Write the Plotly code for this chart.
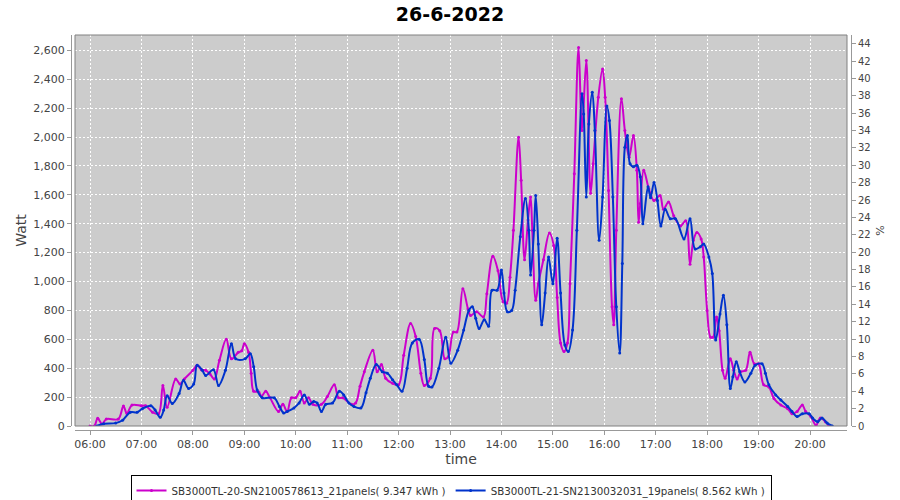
import plotly.graph_objects as go

DAY = "2022-06-26 "

series_a_name = "SB3000TL-20-SN2100578613_21panels( 9.347 kWh )"
series_a_times = [
    "06:00", "06:05", "06:09", "06:14", "06:19", "06:33", "06:39", "06:43", "06:49", "07:00",
    "07:05", "07:13", "07:20", "07:25", "07:30", "07:40", "07:45", "07:50", "08:00", "08:05",
    "08:10", "08:15", "08:20", "08:25", "08:31", "08:39", "08:45", "08:53", "08:57", "09:00",
    "09:05", "09:08", "09:11", "09:17", "09:20", "09:25", "09:30", "09:40", "09:45", "09:50",
    "09:55", "10:00", "10:05", "10:10", "10:15", "10:20", "10:30", "10:37", "10:45", "10:50",
    "10:55", "11:05", "11:10", "11:15", "11:20", "11:30", "11:35", "11:40", "11:45", "11:53",
    "12:00", "12:06", "12:14", "12:20", "12:26", "12:30", "12:37", "12:42", "12:48", "12:54",
    "12:58", "13:04", "13:08", "13:15", "13:21", "13:24", "13:31", "13:39", "13:43", "13:50",
    "13:56", "14:02", "14:06", "14:10", "14:14", "14:20", "14:23", "14:27", "14:31", "14:34",
    "14:36", "14:40", "14:43", "14:49", "14:56", "15:01", "15:05", "15:09", "15:13", "15:17",
    "15:20", "15:25", "15:30", "15:34", "15:39", "15:44", "15:47", "15:53", "15:58", "16:01",
    "16:05", "16:09", "16:11", "16:14", "16:20", "16:24", "16:29", "16:34", "16:38", "16:40",
    "16:42", "16:46", "16:52", "16:58", "17:05", "17:09", "17:15", "17:21", "17:29", "17:35",
    "17:40", "17:44", "17:48", "17:53", "17:56", "18:00", "18:04", "18:07", "18:11", "18:14",
    "18:18", "18:21", "18:27", "18:31", "18:35", "18:39", "18:45", "18:50", "18:55", "19:00",
    "19:06", "19:12", "19:18", "19:26", "19:34", "19:39", "19:45", "19:51", "19:55", "20:01",
    "20:07", "20:12", "20:18", "20:22",
]
series_a_watt = [
    0, 0, 53, 14, 48, 48, 138, 87, 145, 140,
    140, 95, 85, 280, 130, 325, 290, 325, 385, 420,
    390, 385, 360, 325, 455, 600, 465, 510, 520, 570,
    510, 365, 240, 235, 205, 240, 195, 100, 150, 100,
    195, 195, 240, 160, 195, 150, 150, 205, 285, 195,
    195, 150, 160, 275, 375, 525, 375, 425, 330, 295,
    285, 490, 710, 620, 365, 280, 330, 675, 660, 465,
    480, 650, 650, 950, 810, 765, 790, 755, 915, 1175,
    1075, 860, 850, 1030, 1355, 1999, 1700, 1150, 1425, 1585,
    1355, 870, 985, 1150, 1335, 1250, 890, 575, 515, 575,
    985, 1745, 2620, 2045, 2530, 1610, 1815, 2275, 2470, 2275,
    1630, 825, 700, 1355, 2265, 2045, 1860, 2010, 1770, 1410,
    1540, 1770, 1640, 1560, 1595, 1500, 1550, 1455, 1385, 1420,
    1120, 1285, 1340, 1295, 1170, 800, 615, 615, 755, 660,
    385, 330, 465, 385, 325, 375, 385, 510, 430, 430,
    285, 270, 190, 145, 120, 85, 100, 145, 100, 65,
    5, 55, 30, 5,
]

series_b_name = "SB3000TL-21-SN2130032031_19panels( 8.562 kWh )"
series_b_times = [
    "06:08", "06:16", "06:30", "06:38", "06:47", "06:55", "07:01", "07:11", "07:16", "07:22",
    "07:26", "07:30", "07:36", "07:44", "07:49", "07:55", "08:01", "08:05", "08:11", "08:15",
    "08:24", "08:30", "08:38", "08:45", "08:50", "09:01", "09:07", "09:11", "09:15", "09:21",
    "09:35", "09:41", "09:46", "09:50", "09:58", "10:04", "10:10", "10:16", "10:21", "10:25",
    "10:30", "10:35", "10:43", "10:51", "10:56", "11:02", "11:08", "11:16", "11:22", "11:27",
    "11:34", "11:41", "11:47", "11:53", "11:58", "12:04", "12:10", "12:16", "12:24", "12:30",
    "12:35", "12:39", "12:47", "12:55", "13:01", "13:09", "13:16", "13:22", "13:26", "13:30",
    "13:34", "13:40", "13:45", "13:49", "13:55", "14:00", "14:03", "14:07", "14:12", "14:16",
    "14:22", "14:28", "14:32", "14:34", "14:38", "14:40", "14:43", "14:47", "14:51", "14:55",
    "15:00", "15:05", "15:09", "15:14", "15:18", "15:23", "15:28", "15:34", "15:36", "15:39",
    "15:42", "15:46", "15:49", "15:54", "15:58", "16:03", "16:06", "16:10", "16:14", "16:18",
    "16:21", "16:24", "16:27", "16:30", "16:34", "16:38", "16:42", "16:45", "16:51", "16:54",
    "16:58", "17:02", "17:06", "17:11", "17:17", "17:23", "17:33", "17:40", "17:46", "17:52",
    "17:56", "18:02", "18:06", "18:10", "18:15", "18:19", "18:23", "18:27", "18:30", "18:34",
    "18:38", "18:44", "18:51", "18:56", "19:04", "19:08", "19:12", "19:20", "19:26", "19:34",
    "19:39", "19:45", "19:51", "19:59", "20:03", "20:09", "20:14", "20:20", "20:26",
]
series_b_watt = [
    0, 15, 20, 40, 95, 95, 120, 140, 110, 60,
    110, 210, 155, 225, 315, 260, 290, 420, 385, 350,
    390, 280, 385, 570, 465, 465, 500, 410, 250, 195,
    195, 135, 90, 100, 125, 160, 215, 150, 170, 160,
    100, 150, 160, 240, 215, 160, 135, 125, 230, 330,
    425, 375, 365, 320, 285, 240, 400, 575, 600, 460,
    275, 270, 400, 615, 435, 525, 665, 800, 825, 745,
    675, 735, 690, 940, 940, 1080, 920, 790, 800, 940,
    1310, 1575, 1355, 1045, 1355, 1595, 1260, 700, 920, 1170,
    985, 1300, 920, 560, 515, 665, 1355, 2300, 2160, 1585,
    2090, 2310, 2045, 1285, 1585, 2215, 2115, 1585, 825, 505,
    1125, 1930, 2010, 1815, 1795, 1805, 1725, 1400, 1655, 1580,
    1685, 1560, 1385, 1500, 1435, 1435, 1295, 1435, 1225, 1240,
    1260, 1170, 1055, 595, 775, 905, 700, 260, 340, 445,
    375, 305, 365, 420, 430, 365, 285, 215, 180, 135,
    100, 65, 85, 85, 55, 30, 55, 20, 0,
]

hour_ticks = ["06:00", "07:00", "08:00", "09:00", "10:00", "11:00", "12:00",
              "13:00", "14:00", "15:00", "16:00", "17:00", "18:00", "19:00", "20:00"]
x_range = ["05:42:30", "20:43:10"]
watt_range = [0, 2706]
pct_range = [0, 45]
pct_ticks = list(range(0, 46, 2))

COLOR_A = "#cc00cc"
COLOR_B = "#0033cc"
FONT = "DejaVu Sans"

fig = go.Figure()
fig.add_trace(go.Scatter(
    x=[DAY + t for t in series_a_times], y=series_a_watt, name=series_a_name,
    mode="lines+markers", line=dict(color=COLOR_A, width=2, shape="spline"),
    marker=dict(size=3, color=COLOR_A),
))
fig.add_trace(go.Scatter(
    x=[DAY + t for t in series_b_times], y=series_b_watt, name=series_b_name,
    mode="lines+markers", line=dict(color=COLOR_B, width=2, shape="spline"),
    marker=dict(size=3, color=COLOR_B),
))
# empty trace to instantiate the right-hand % axis
fig.add_trace(go.Scatter(x=[], y=[], yaxis="y2", showlegend=False, hoverinfo="skip"))

W, H = 900, 500
ml, mr, mt, mb = 71, 49, 35, 70
pw = W - ml - mr
ph = H - mt - mb
gap = 4

axis_font = dict(family=FONT, size=11, color="#444444")
title_font = dict(family=FONT, size=14, color="#444444")

fig.update_layout(
    width=W, height=H,
    margin=dict(l=ml, r=mr, t=mt, b=mb, pad=0, autoexpand=False),
    paper_bgcolor="white",
    plot_bgcolor="#cccccc",
    font=dict(family=FONT, size=11, color="#444444"),
    title=dict(text="<b>26-6-2022</b>", x=0.5, xanchor="center", y=1 - 14 / H, yanchor="middle",
               font=dict(family=FONT, size=19, color="#000000")),
    showlegend=True,
    legend=dict(
        orientation="h", x=(451 - ml) / pw, xanchor="center", y=(mt + ph - 475) / ph, yanchor="top",
        bgcolor="white", bordercolor="#000000", borderwidth=1,
        font=dict(family=FONT, size=10.3, color="#333333"), itemwidth=30,
        tracegroupgap=0,
    ),
    xaxis=dict(
        type="date",
        domain=[gap / pw, 1 - gap / pw],
        anchor="free", position=0,
        range=[DAY + x_range[0], DAY + x_range[1]],
        tickvals=[DAY + t for t in hour_ticks], ticktext=hour_ticks,
        showgrid=True, gridcolor="white", griddash="2px,2px", gridwidth=1,
        showline=True, linecolor="#999999", linewidth=1,
        ticks="outside", ticklen=4, tickcolor="#999999",
        tickfont=axis_font,
        title=dict(text="time", font=title_font, standoff=3),
        zeroline=False,
    ),
    yaxis=dict(
        domain=[gap / ph, 1],
        anchor="free", position=0,
        range=watt_range, dtick=200, tickformat=",d",
        showgrid=True, gridcolor="white", griddash="2px,2px", gridwidth=1,
        showline=True, linecolor="#999999", linewidth=1,
        ticks="outside", ticklen=4, tickcolor="#999999",
        tickfont=axis_font,
        title=dict(text="Watt", font=title_font, standoff=2),
        zeroline=False,
    ),
    yaxis2=dict(
        overlaying="y", side="right", anchor="free", position=1,
        range=pct_range, tickvals=pct_ticks,
        showgrid=False, zeroline=False,
        showline=True, linecolor="#999999", linewidth=1,
        ticks="outside", ticklen=4, tickcolor="#999999",
        tickfont=dict(family=FONT, size=10, color="#444444"),
        title=dict(text="%", font=dict(family=FONT, size=11, color="#444444"), standoff=6),
    ),
    shapes=[dict(type="rect", xref="x domain", yref="y domain", x0=0, x1=1, y0=0, y1=1,
                 line=dict(color="#808080", width=1), fillcolor="rgba(0,0,0,0)", layer="above")],
)

fig.write_html(
    "out.html",
    config={"displayModeBar": False},
    post_script="document.body.style.margin='0';document.body.style.padding='0';",
)
